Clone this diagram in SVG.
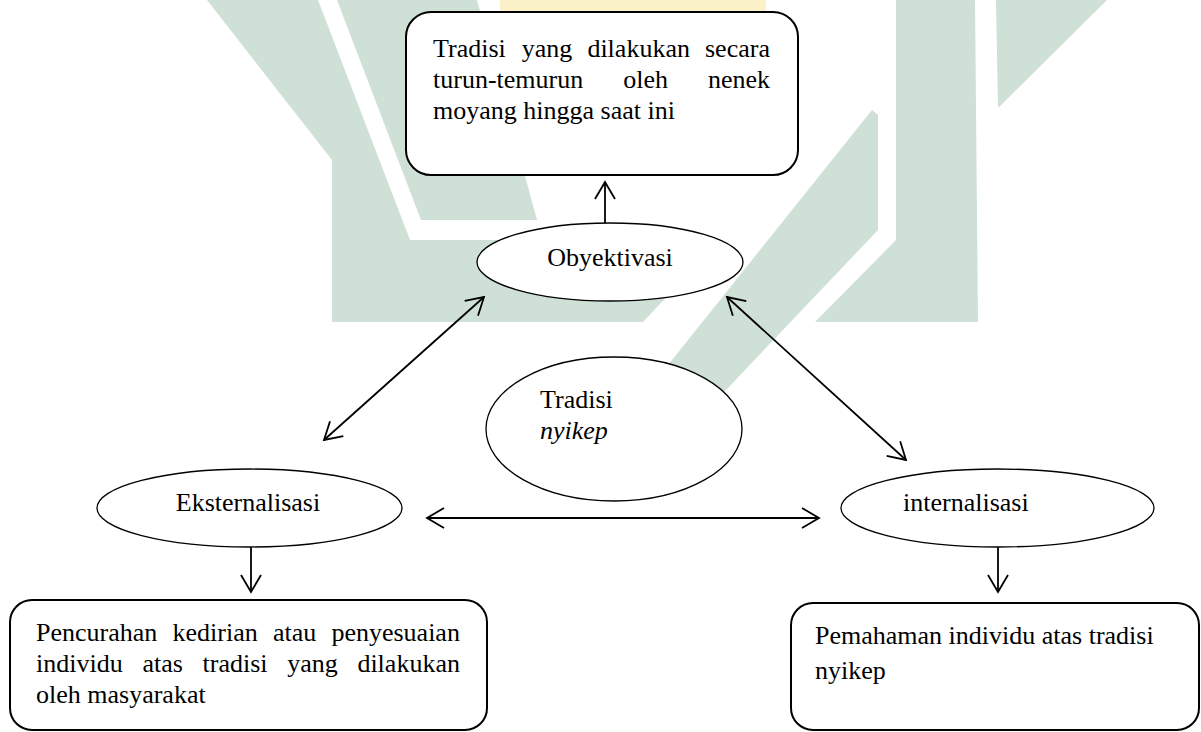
<svg xmlns="http://www.w3.org/2000/svg" width="1201" height="732" viewBox="0 0 1201 732">
<style>
.wm{fill:#cfe0d6;stroke:none}
.box{fill:#fff;stroke:#000;stroke-width:2}
.ell{fill:#fff;stroke:#000;stroke-width:1.3}
.t{font-family:"Liberation Serif","Times New Roman",serif;font-size:26px;fill:#000}
.c{fill:none;stroke:#000;stroke-width:1.8}
</style>
<defs>
<marker id="ah" viewBox="-20 -12 22 24" refX="0" refY="0" markerWidth="22" markerHeight="24" markerUnits="userSpaceOnUse" orient="auto-start-reverse">
<path d="M-17,-10 L0,0 L-17,10" fill="none" stroke="#000" stroke-width="1.8"/>
</marker>
</defs>
<rect width="1201" height="732" fill="#fff"/>
<g id="watermark">
<rect x="500" y="0" width="266" height="12" fill="#fbf1c8"/>
<polygon class="wm" points="207,0 318,0 410,240 720,240 643,322 332,322 332,160"/>
<polygon class="wm" points="337,0 477,0 537,220 421,220"/>
<polygon class="wm" points="872,110 878,115 878,230 650,470 584,470"/>
<polygon class="wm" points="896,0 975,0 978,322 815,322 896,240"/>
<polygon class="wm" points="996,0 1107,0 998,108"/>
</g>
<g id="connectors">
<line class="c" x1="605" y1="227" x2="605" y2="182" marker-end="url(#ah)"/>
<line class="c" x1="324" y1="440" x2="484" y2="297" marker-start="url(#ah)" marker-end="url(#ah)"/>
<line class="c" x1="727" y1="297" x2="906" y2="460" marker-start="url(#ah)" marker-end="url(#ah)"/>
<line class="c" x1="427" y1="518" x2="819" y2="518" marker-start="url(#ah)" marker-end="url(#ah)"/>
<line class="c" x1="251" y1="546" x2="251" y2="592" marker-end="url(#ah)"/>
<line class="c" x1="998" y1="546" x2="998" y2="592" marker-end="url(#ah)"/>
</g>
<g id="box-tradisi-turun">
<rect class="box" x="406" y="12" width="392" height="163" rx="25"/>
<text class="t" y="57"><tspan x="433">Tradisi</tspan><tspan x="521.8">yang</tspan><tspan x="587.4">dilakukan</tspan><tspan x="705">secara</tspan></text>
<text class="t" y="88"><tspan x="433">turun-temurun</tspan><tspan x="623.2">oleh</tspan><tspan x="708">nenek</tspan></text>
<text class="t" x="433" y="119">moyang hingga saat ini</text>
</g>
<g id="node-obyektivasi">
<ellipse class="ell" cx="610" cy="262" rx="133" ry="39"/>
<text class="t" x="610" y="266" text-anchor="middle">Obyektivasi</text>
</g>
<g id="node-tradisi-nyikep">
<ellipse class="ell" cx="614" cy="429" rx="128" ry="72" stroke-width="2"/>
<text class="t" x="540" y="408">Tradisi</text>
<text class="t" x="540" y="439" font-style="italic">nyikep</text>
</g>
<g id="node-eksternalisasi">
<ellipse class="ell" cx="249.5" cy="508" rx="152.5" ry="39"/>
<text class="t" x="248" y="511" text-anchor="middle">Eksternalisasi</text>
</g>
<g id="node-internalisasi">
<ellipse class="ell" cx="997.5" cy="508" rx="156.5" ry="39"/>
<text class="t" x="903" y="511">internalisasi</text>
</g>
<g id="box-pencurahan">
<rect class="box" x="10" y="600" width="477" height="130" rx="22"/>
<text class="t" y="641"><tspan x="36">Pencurahan</tspan><tspan x="172.5">kedirian</tspan><tspan x="272.9">atau</tspan><tspan x="331.4">penyesuaian</tspan></text>
<text class="t" y="672"><tspan x="36">individu</tspan><tspan x="142.4">atas</tspan><tspan x="202.5">tradisi</tspan><tspan x="287.2">yang</tspan><tspan x="357.4">dilakukan</tspan></text>
<text class="t" x="36" y="703">oleh masyarakat</text>
</g>
<g id="box-pemahaman">
<rect class="box" x="791" y="603" width="408" height="127" rx="22"/>
<text class="t" x="815" y="644">Pemahaman individu atas tradisi</text>
<text class="t" x="815" y="679">nyikep</text>
</g>
</svg>
